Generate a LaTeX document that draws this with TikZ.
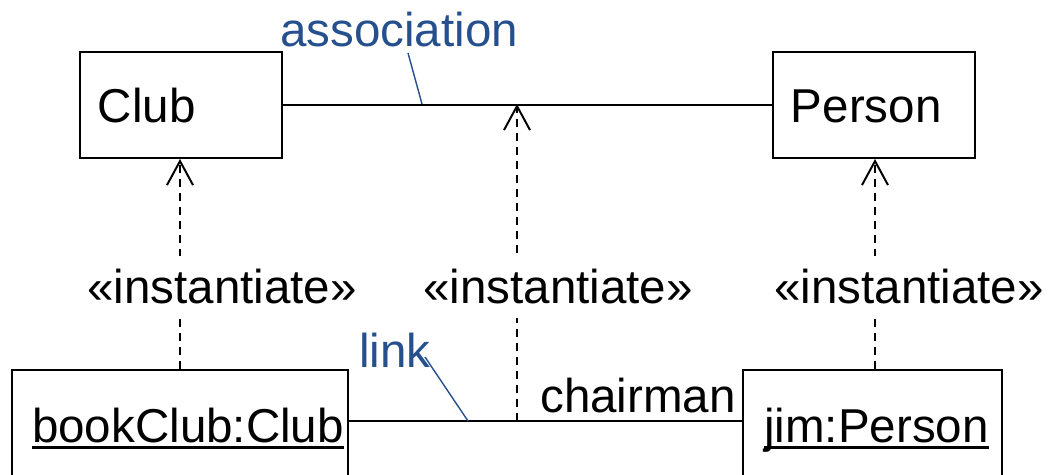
\documentclass[tikz,border=0pt]{standalone}
\usepackage{fontspec}
\setmainfont{Liberation Sans}
\usepackage{xcolor}
\usetikzlibrary{calc, positioning, arrows.meta}
\definecolor{azul}{RGB}{37,80,141}
\newcommand{\sublinhado}[1]{\setbox0\hbox{#1}\rlap{\rule[-4.7pt]{\wd0}{2.2pt}}\box0}

\begin{document}
\begin{tikzpicture}[x=0.025cm, y=-0.025cm,
  font=\fontsize{33.8}{40}\selectfont,
  linha/.style={line width=1.4pt},
  classe/.style={draw, linha, inner xsep=0.45cm, text width=4.15cm, align=left,
    minimum height=2.65cm, text height=0.85cm, text depth=0pt},
  objeto/.style={draw, linha, inner xsep=0pt, minimum height=2.75cm, text height=0.85cm, text depth=0pt},
  instancia/.style={linha, dash pattern=on 0.2cm off 0.15cm,
    -{Straight Barb[length=0.6cm, width=0.65cm, line width=1.4pt]}},
  rotulo/.style={text=azul},
  guia/.style={azul, line width=1pt},
  estereotipo/.style={fill=white, inner ysep=0.35cm}]
% Fixando a area da figura:
\useasboundingbox (0,0) rectangle (1049,474);
\clip (0,0) rectangle (1049,474);

% Desenhando as classes Club e Person:
\node[classe] (Club) at (181,105) {Club};
\node[classe] (Person) at (874,105) {Person};

% Desenhando os objetos (cortados embaixo):
\node[objeto, minimum width=8.4cm] (bookClub) at (180,425) {\hspace*{0.4cm}\sublinhado{bookClub:Club}};
\node[objeto, minimum width=6.475cm] (jim) at (872.5,425) {\hspace*{0.2cm}\sublinhado{jim:Person}};

% Desenhando a associacao e o link:
\coordinate (pontoAssoc) at (517,104);
\coordinate (pontoLink) at (517,421);
\draw[linha] (Club.east) -- (Person.west);
\draw[linha] (bookClub.east |- pontoLink) -- (jim.west |- pontoLink);

% Adicionando os nomes azuis com as linhas guia:
\node[rotulo] (association) at (399,30) {association};
\node[rotulo] (link) at (395,350) {link};
\coordinate (guiaAssoc) at (408,53);
\coordinate (guiaLink) at (425,357);
\draw[guia] (guiaAssoc) -- (422,104);
\draw[guia] (guiaLink) -- (468,421);

% Adicionando o papel chairman:
\node (chairman) at (638,396) {chairman};

% Desenhando as setas de instanciacao:
\draw[instancia] (bookClub.north) -- (bookClub.north |- Club.south);
\draw[instancia] (pontoLink) -- (pontoAssoc);
\draw[instancia] (jim.north -| 875,0) -- (Person.south -| 875,0);

% Adicionando os estereotipos por cima das setas:
\node[estereotipo] (inst1) at (222,287) {«instantiate»};
\node[estereotipo] (inst2) at (558,287) {«instantiate»};
\node[estereotipo] (inst3) at (909,287) {«instantiate»};
\end{tikzpicture}
\end{document}
